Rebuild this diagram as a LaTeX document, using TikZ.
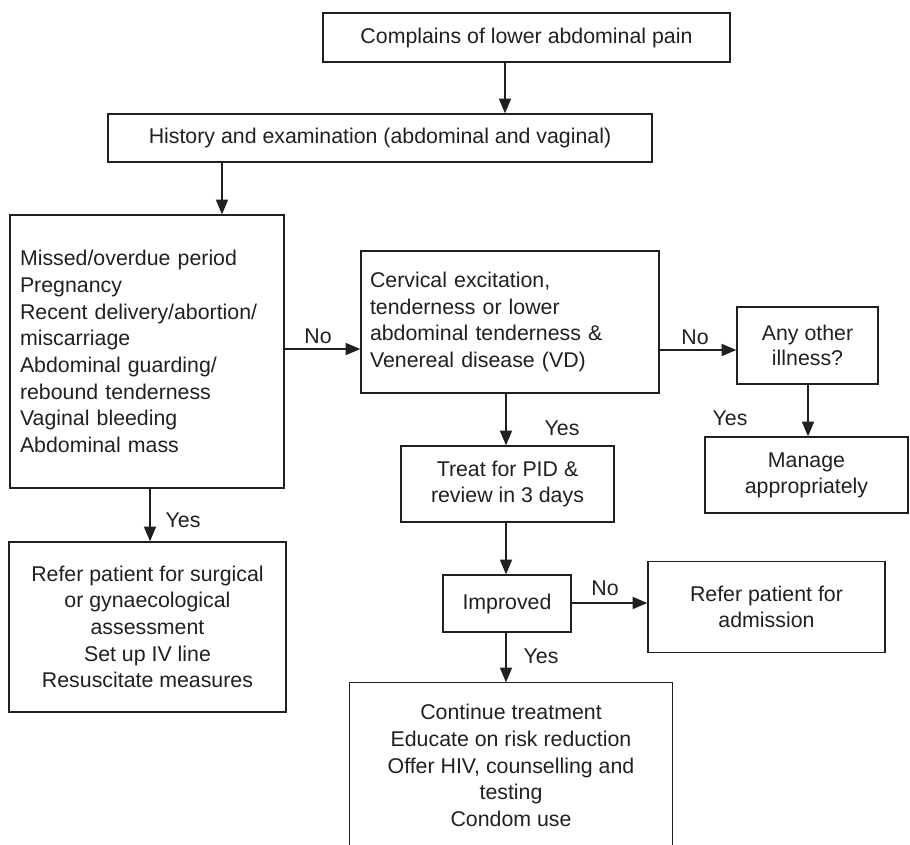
\documentclass[tikz,border=0pt]{standalone}
\usepackage{fontspec}
\setmainfont{Liberation Sans}
\usetikzlibrary{arrows.meta,calc}
\definecolor{ink}{HTML}{231F20}
\begin{document}
\begin{tikzpicture}[x=0.75pt,y=-0.75pt,
  box/.style={draw=ink, line width=1pt, inner sep=0pt, align=center,
    font=\fontsize{16}{20}\selectfont, text=ink},
  lbox/.style={box, align=left},
  lbl/.style={font=\fontsize{16}{20}\selectfont, text=ink, inner sep=0pt},
  arr/.style={draw=ink, line width=1pt, -{Triangle[length=11pt,width=9pt]}}]
\useasboundingbox (0,0) rectangle (910,844);
\clip (0,0) rectangle (910,844);

% boxes
\node[box, minimum width=305.25pt, minimum height=36.75pt] (pain) at (526.5,37.5)
  {Complains of lower abdominal pain};
\node[box, minimum width=408pt, minimum height=36pt] (hist) at (380,138)
  {History and examination (abdominal and vaginal)};
\node[lbox, text width=190.5pt, inner xsep=7.5pt, minimum height=204.75pt] (crit) at (147,351.5)
  {Missed/overdue period\\Pregnancy\\Recent delivery/abortion/\\miscarriage\\Abdominal guarding/\\rebound tenderness\\Vaginal bleeding\\Abdominal mass};
\node[lbox, text width=210pt, inner xsep=6.75pt, minimum height=106.5pt] (cerv) at (510,322)
  {Cervical excitation,\\tenderness or lower\\abdominal tenderness \&\\Venereal disease (VD)};
\node[box, minimum width=105.75pt, minimum height=57.75pt, font=\fontsize{16}{19}\selectfont] (other) at (807.5,345.5)
  {Any other\\illness?};
\node[box, minimum width=152.25pt, minimum height=57pt, font=\fontsize{16}{19.5}\selectfont] (manage) at (806.5,475)
  {Manage\\appropriately};
\node[box, minimum width=159.75pt, minimum height=57pt, font=\fontsize{16}{19.5}\selectfont] (treat) at (507.5,484)
  {Treat for PID \&\\review in 3 days};
\node[box, minimum width=96pt, minimum height=42.75pt] (impr) at (507,603.5)
  {Improved};
\node[box, minimum width=177.75pt, minimum height=68.25pt, font=\fontsize{16}{20}\selectfont] (admit) at (766.5,607)
  {Refer patient for\\admission};
\node[box, minimum width=207.75pt, minimum height=127.5pt] (surg) at (147.5,627)
  {Refer patient for surgical\\or gynaecological\\assessment\\Set up IV line\\Resuscitate measures};
\node[box, draw=none, minimum width=241.5pt, minimum height=123.75pt] (cont) at (511,765.5)
  {Continue treatment\\Educate on risk reduction\\Offer HIV, counselling and\\testing\\Condom use};
\draw[ink, line width=1pt] (cont.south west) -- (cont.north west) -- (cont.north east) -- (cont.south east);

% connector positions
\coordinate (xa) at (505,0);
\coordinate (xb) at (222,0);
\coordinate (xc) at (150,0);
\coordinate (xd) at (506,0);
\coordinate (xe) at (808,0);
\coordinate (ya) at (0,349);
\coordinate (yb) at (0,350);
\coordinate (yc) at (0,603);

% connectors
\draw[arr] (pain.south -| xa) -- (hist.north -| xa);
\draw[arr] (hist.south -| xb) -- (crit.north -| xb);
\draw[arr] (crit.east |- ya) -- (cerv.west |- ya);
\draw[arr] (cerv.east |- yb) -- (other.west |- yb);
\draw[arr] (cerv.south -| xd) -- (treat.north -| xd);
\draw[arr] (other.south -| xe) -- (manage.north -| xe);
\draw[arr] (crit.south -| xc) -- (surg.north -| xc);
\draw[arr] (treat.south -| xd) -- (impr.north -| xd);
\draw[arr] (impr.east |- yc) -- (admit.west |- yc);
\draw[arr] (impr.south -| xd) -- (cont.north -| xd);

% branch labels
\node[lbl] (no1) at (318,336) {No};
\node[lbl] (no2) at (695,337) {No};
\node[lbl] (no3) at (605,588) {No};
\node[lbl] (yes1) at (562,428) {Yes};
\node[lbl] (yes2) at (730,418) {Yes};
\node[lbl] (yes3) at (183,520) {Yes};
\node[lbl] (yes4) at (541,656) {Yes};
\end{tikzpicture}
\end{document}
